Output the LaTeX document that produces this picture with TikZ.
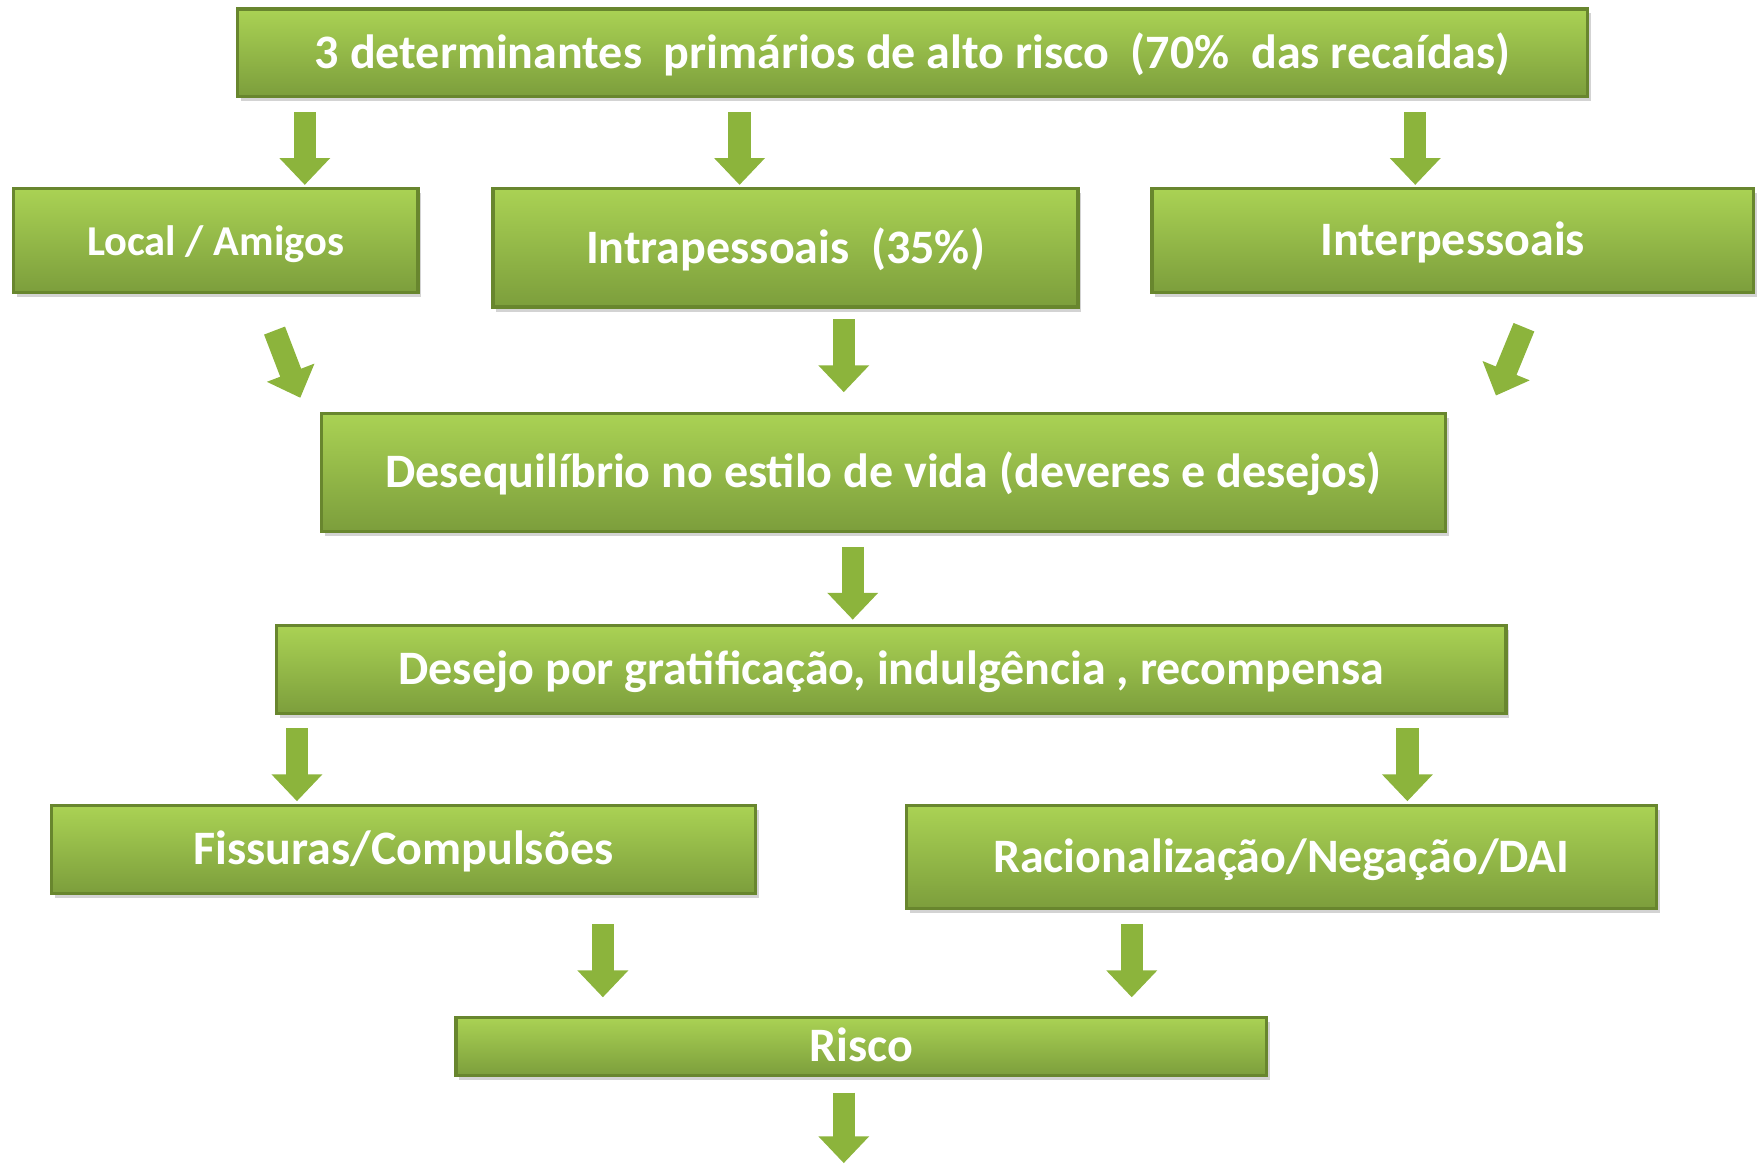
\documentclass[tikz,border=0pt]{standalone}
\usepackage{fontspec}
\setmainfont{Carlito}
\usepackage{tikz}
\usetikzlibrary{arrows.meta, shadows}

\definecolor{boxlight}{RGB}{170,210,84}
\definecolor{boxdark}{RGB}{124,158,60}
\definecolor{boxedge}{RGB}{104,134,46}
\definecolor{arrowgreen}{RGB}{140,180,60}

\begin{document}
\begin{tikzpicture}[
    box/.style={rectangle, draw=boxedge, thick, top color=boxlight, bottom color=boxdark,
        text=white, font=\fontsize{12.2}{14}\selectfont\bfseries, inner sep=0pt,
        text height=9.5pt, text depth=1.7pt,
        drop shadow={opacity=0.35, shadow xshift=0.03cm, shadow yshift=-0.04cm}},
    blockarrow/.style={line width=0.2cm, draw=arrowgreen, -{Triangle[width=0.44cm, length=0.24cm]}}
]
    % Fix the page size
    \useasboundingbox (0,0) rectangle (15.68,-10.38);

    % Boxes
    \node[box, minimum width=12.05cm, minimum height=0.78cm] (top) at (8.145,-0.47)
        {3 determinantes~ primários de alto risco~ (70\%~ das recaídas)};
    \node[box, minimum width=3.61cm, minimum height=0.93cm, font=\fontsize{10.8}{12}\selectfont\bfseries] (local) at (1.925,-2.145) {Local / Amigos};
    \node[box, minimum width=5.22cm, minimum height=1.06cm] (intra) at (7.01,-2.21) {Intrapessoais~ (35\%)};
    \node[box, minimum width=5.37cm, minimum height=0.93cm] (inter) at (12.965,-2.145) {Interpessoais};
    \node[box, minimum width=10.03cm, minimum height=1.05cm] (deseq) at (7.885,-4.215)
        {Desequilíbrio no estilo de vida (deveres e desejos)};
    \node[box, minimum width=10.97cm, minimum height=0.79cm] (desejo) at (7.955,-5.975)
        {Desejo por gratificação, indulgência , recompensa};
    \node[box, minimum width=6.28cm, minimum height=0.78cm] (fiss) at (3.6,-7.58) {Fissuras/Compulsões};
    \node[box, minimum width=6.69cm, minimum height=0.92cm] (racio) at (11.435,-7.65) {Racionalização/Negação/DAI};
    \node[box, minimum width=7.23cm, minimum height=0.52cm] (risco) at (7.685,-9.34) {Risco};

    % Arrow end points
    \coordinate (a1s) at (2.72,-1.00);   \coordinate (a1e) at (2.72,-1.65);
    \coordinate (a2s) at (6.60,-1.00);   \coordinate (a2e) at (6.60,-1.65);
    \coordinate (a3s) at (12.63,-1.00);  \coordinate (a3e) at (12.63,-1.65);
    \coordinate (a4s) at (2.45,-2.95);   \coordinate (a4e) at (2.68,-3.55);
    \coordinate (a5s) at (7.53,-2.85);   \coordinate (a5e) at (7.53,-3.50);
    \coordinate (a6s) at (13.60,-2.92);  \coordinate (a6e) at (13.35,-3.53);
    \coordinate (a7s) at (7.61,-4.88);   \coordinate (a7e) at (7.61,-5.53);
    \coordinate (a8s) at (2.65,-6.50);   \coordinate (a8e) at (2.65,-7.15);
    \coordinate (a9s) at (12.56,-6.50);  \coordinate (a9e) at (12.56,-7.15);
    \coordinate (a10s) at (5.38,-8.25);  \coordinate (a10e) at (5.38,-8.90);
    \coordinate (a11s) at (10.10,-8.25); \coordinate (a11e) at (10.10,-8.90);
    \coordinate (a12s) at (7.53,-9.75);  \coordinate (a12e) at (7.53,-10.38);

    % Block arrows
    \foreach \n in {1,...,12} {
        \draw[blockarrow] (a\n s) -- (a\n e);
    }
\end{tikzpicture}
\end{document}
